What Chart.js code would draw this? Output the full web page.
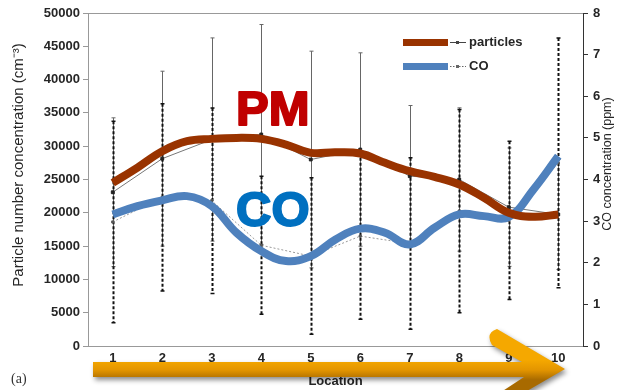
<!DOCTYPE html>
<html>
<head>
<meta charset="utf-8">
<script src="https://cdn.jsdelivr.net/npm/chart.js@4.4.0/dist/chart.umd.min.js"></script>
<style>
  html, body { margin: 0; padding: 0; background: #fff; }
  canvas { display: block; }
</style>
</head>
<body>
<canvas id="chart" width="621" height="390"></canvas>
<script>
// Measured data (mean and error) per location
const locations = [1, 2, 3, 4, 5, 6, 7, 8, 9, 10];
const particleMean = [23090, 28130, 31000, 31760, 28000, 29500, 25500, 25000, 20850, 19750];
const particleErr = [11170, 13130, 15260, 16510, 16270, 14520, 10610, 10760, 8890, 8260];
const coMean = [2.98, 3.57, 3.49, 2.42, 2.16, 2.64, 2.46, 3.24, 3.02, 4.40];
const coErr = [2.42, 2.25, 2.23, 1.66, 1.88, 2.00, 2.06, 2.44, 1.90, 3.00];

// Hand-drawn trend curves laid over the data
const curveX = [1, 1.5, 2, 2.5, 3, 3.5, 4, 4.5, 5, 5.5, 6, 6.5, 7, 7.5, 8, 8.5, 9, 9.5, 10];
const pmCurve = [24500, 26800, 29250, 30750, 31100, 31250, 31100, 30250, 29000, 29100, 28900, 27500, 26250, 25400, 24250, 22250, 20000, 19400, 19750];
const coCurve = [3.16, 3.36, 3.50, 3.60, 3.36, 2.72, 2.28, 2.04, 2.16, 2.56, 2.82, 2.72, 2.44, 2.84, 3.16, 3.12, 3.10, 3.76, 4.56];

const leftTicks = [0, 5000, 10000, 15000, 20000, 25000, 30000, 35000, 40000, 45000, 50000];
const rightTicks = [0, 1, 2, 3, 4, 5, 6, 7, 8];

const FONT = 'Liberation Sans, Arial, sans-serif';
const BROWN = '#993300';
const BLUE = '#4f81bd';

const toXY = (xs, ys) => xs.map((x, i) => ({ x: x, y: ys[i] }));

const errorBars = {
    id: 'errorBars',
    beforeDatasetsDraw(chart) {
        const { ctx, chartArea, scales } = chart;
        ctx.save();
        // plot frame top line
        ctx.strokeStyle = '#999';
        ctx.lineWidth = 1;
        ctx.beginPath();
        ctx.moveTo(chartArea.left, chartArea.top + 0.5);
        ctx.lineTo(chartArea.right, chartArea.top + 0.5);
        ctx.stroke();

        locations.forEach((loc, i) => {
            const px = Math.round(scales.x.getPixelForValue(loc)) + 0.5;
            // particles: thin solid bars
            let top = scales.y.getPixelForValue(particleMean[i] + particleErr[i]);
            let bot = scales.y.getPixelForValue(particleMean[i] - particleErr[i]);
            ctx.setLineDash([]);
            ctx.strokeStyle = '#666';
            ctx.lineWidth = 1;
            ctx.beginPath();
            ctx.moveTo(px, top); ctx.lineTo(px, bot);
            ctx.moveTo(px - 2, top); ctx.lineTo(px + 2, top);
            ctx.moveTo(px - 2, bot); ctx.lineTo(px + 2, bot);
            ctx.stroke();

            // CO: heavy dotted bars
            top = scales.y1.getPixelForValue(coMean[i] + coErr[i]);
            bot = scales.y1.getPixelForValue(coMean[i] - coErr[i]);
            ctx.strokeStyle = '#111';
            ctx.lineWidth = 2;
            ctx.setLineDash([3, 2]);
            ctx.beginPath();
            ctx.moveTo(px, top); ctx.lineTo(px, bot);
            ctx.stroke();
            ctx.setLineDash([]);
            ctx.lineWidth = 1.5;
            ctx.beginPath();
            ctx.moveTo(px - 2, top); ctx.lineTo(px + 2, top);
            ctx.moveTo(px - 2, bot); ctx.lineTo(px + 2, bot);
            ctx.stroke();
        });
        ctx.restore();
    }
};

const overlay = {
    id: 'overlay',
    afterDraw(chart) {
        const { ctx } = chart;
        ctx.save();

        // axis titles, both reading bottom to top
        ctx.fillStyle = '#262626';
        ctx.textAlign = 'center';
        ctx.textBaseline = 'middle';
        ctx.save();
        ctx.translate(19, 165);
        ctx.rotate(-Math.PI / 2);
        ctx.font = '15px ' + FONT;
        ctx.fillText('Particle number concentration (cm⁻³)', 0, 0);
        ctx.restore();
        ctx.save();
        ctx.translate(608, 164);
        ctx.rotate(-Math.PI / 2);
        ctx.font = '12.5px ' + FONT;
        ctx.fillText('CO concentration (ppm)', 0, 0);
        ctx.restore();

        // big labels
        ctx.textBaseline = 'alphabetic';
        ctx.textAlign = 'left';
        ctx.font = 'bold 49px ' + FONT;
        ctx.lineWidth = 2;
        ctx.lineJoin = 'round';
        ctx.fillStyle = ctx.strokeStyle = '#c00000';
        ctx.fillText('PM', 236, 125);
        ctx.strokeText('PM', 236, 125);
        ctx.fillStyle = ctx.strokeStyle = '#0070c0';
        ctx.fillText('CO', 236, 226);
        ctx.strokeText('CO', 236, 226);

        // legend
        const rows = [
            { y: 42.5, color: BROWN, text: 'particles', dash: [], lc: '#444' },
            { y: 66.5, color: BLUE, text: 'CO', dash: [1.5, 1.5], lc: '#666' }
        ];
        rows.forEach(r => {
            ctx.fillStyle = r.color;
            ctx.fillRect(403, r.y - 3.5, 45, 7);
            ctx.strokeStyle = r.lc;
            ctx.lineWidth = 1;
            ctx.setLineDash(r.dash);
            ctx.beginPath();
            ctx.moveTo(450, r.y); ctx.lineTo(466, r.y);
            ctx.stroke();
            ctx.setLineDash([]);
            ctx.fillStyle = r.lc;
            ctx.fillRect(456, r.y - 1.5, 3, 3);
            ctx.fillStyle = '#262626';
            ctx.font = 'bold 13px ' + FONT;
            ctx.textBaseline = 'middle';
            ctx.fillText(r.text, 469, r.y);
        });

        // orange arrow along the location axis
        const grad = ctx.createLinearGradient(0, 360, 0, 380);
        grad.addColorStop(0, '#f5a800');
        grad.addColorStop(0.5, '#e39500');
        grad.addColorStop(1, '#a86a00');
        ctx.shadowColor = 'rgba(0,0,0,0.45)';
        ctx.shadowBlur = 5;
        ctx.shadowOffsetX = 2;
        ctx.shadowOffsetY = 3;
        ctx.fillStyle = grad;
        ctx.beginPath();
        ctx.moveTo(93, 362);
        ctx.lineTo(522, 362);
        ctx.lineTo(492, 345);
        ctx.quadraticCurveTo(485, 333, 497, 329);
        ctx.lineTo(565, 369);
        ctx.lineTo(508, 402);
        ctx.lineTo(486, 402);
        ctx.lineTo(524, 377);
        ctx.lineTo(93, 377);
        ctx.closePath();
        ctx.fill();

        ctx.shadowColor = 'transparent';
        ctx.fillStyle = '#333';
        ctx.font = '14px Liberation Serif, serif';
        ctx.textBaseline = 'middle';
        ctx.fillText('(a)', 11, 379);
        ctx.restore();
    }
};

const tickFont = { family: FONT, size: 13, weight: 'bold' };

new Chart(document.getElementById('chart'), {
    type: 'line',
    data: {
        datasets: [
            {
                label: 'particles trend',
                data: toXY(curveX, pmCurve),
                yAxisID: 'y',
                borderColor: BROWN,
                borderWidth: 8,
                pointRadius: 0,
                tension: 0.4,
                order: 0
            },
            {
                label: 'CO trend',
                data: toXY(curveX, coCurve),
                yAxisID: 'y1',
                borderColor: BLUE,
                borderWidth: 8,
                pointRadius: 0,
                tension: 0.4,
                order: 0
            },
            {
                label: 'particles',
                data: toXY(locations, particleMean),
                yAxisID: 'y',
                borderColor: '#777',
                borderWidth: 1,
                pointStyle: 'rect',
                pointRadius: 2,
                pointBackgroundColor: '#222',
                pointBorderColor: '#222',
                tension: 0,
                order: 2
            },
            {
                label: 'CO',
                data: toXY(locations, coMean),
                yAxisID: 'y1',
                borderColor: '#999',
                borderWidth: 1,
                borderDash: [2, 2],
                pointStyle: 'rect',
                pointRadius: 1.5,
                pointBackgroundColor: '#555',
                pointBorderColor: '#555',
                tension: 0,
                order: 2
            }
        ]
    },
    options: {
        responsive: false,
        animation: false,
        layout: { padding: { top: 13, left: 0, right: 0, bottom: 0 } },
        plugins: { legend: { display: false }, tooltip: { enabled: false } },
        scales: {
            x: {
                type: 'linear',
                min: 0.5,
                max: 10.5,
                afterBuildTicks: s => { s.ticks = locations.map(v => ({ value: v })); },
                afterFit: s => { s.height = 44; },
                grid: { drawOnChartArea: false, drawTicks: false },
                border: { color: '#999', width: 1 },
                ticks: { color: '#262626', font: tickFont, padding: 5, callback: v => String(v) },
                title: { display: true, text: 'Location', color: '#262626', font: tickFont, padding: { top: 0, bottom: 1 } }
            },
            y: {
                position: 'left',
                min: 0,
                max: 50000,
                afterBuildTicks: s => { s.ticks = leftTicks.map(v => ({ value: v })); },
                afterFit: s => { s.width = 88; },
                grid: { drawOnChartArea: false, tickLength: 5, color: '#999' },
                border: { color: '#999', width: 1 },
                ticks: { color: '#262626', font: tickFont, padding: 3, callback: v => String(v) }
            },
            y1: {
                position: 'right',
                min: 0,
                max: 8,
                afterBuildTicks: s => { s.ticks = rightTicks.map(v => ({ value: v })); },
                afterFit: s => { s.width = 38; },
                grid: { drawOnChartArea: false, tickLength: 5, color: '#333' },
                border: { color: '#333', width: 1 },
                ticks: { color: '#262626', font: tickFont, padding: 5, callback: v => String(v) }
            }
        }
    },
    plugins: [errorBars, overlay]
});
</script>
</body>
</html>
